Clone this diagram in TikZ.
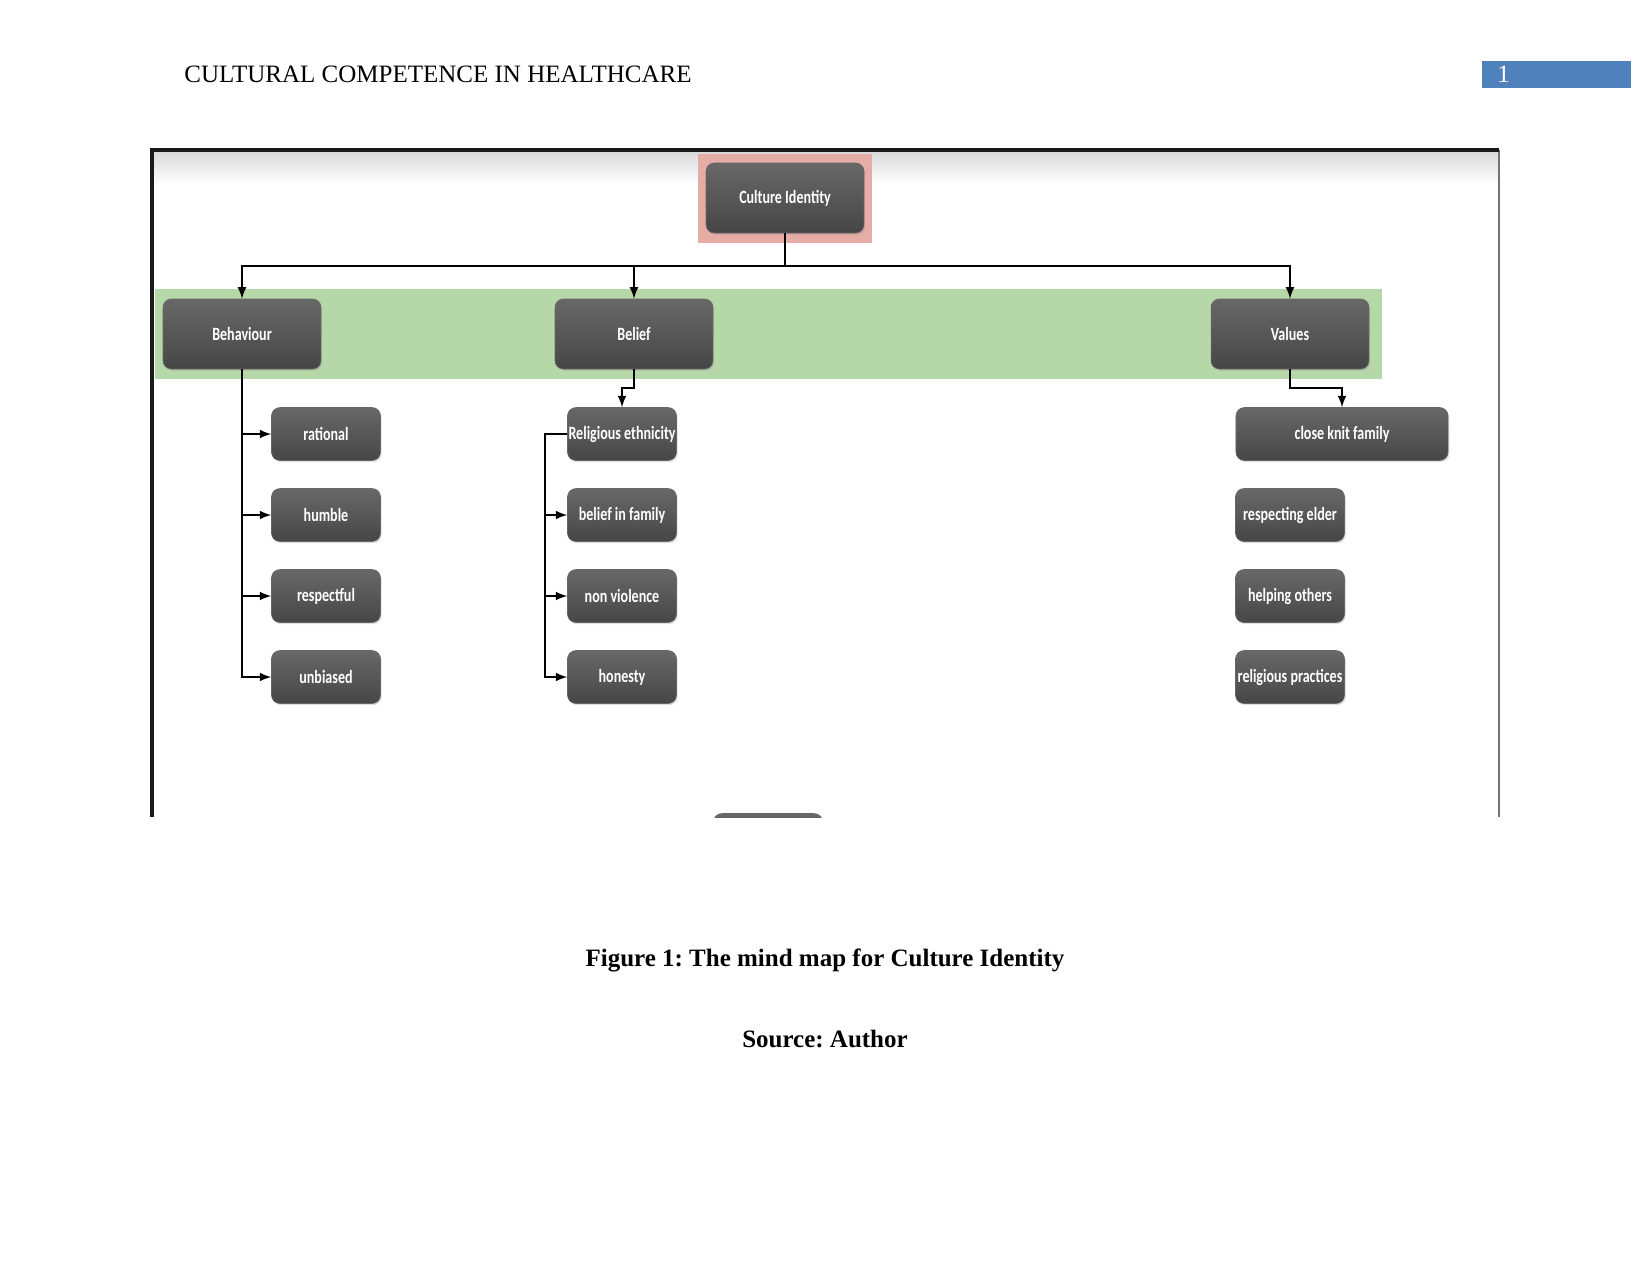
\documentclass[tikz,border=0pt]{standalone}
\usepackage{fontspec}
\setmainfont{Liberation Serif}
\newfontfamily\boxfont[FakeStretch=0.75]{Carlito}
\usetikzlibrary{shadows}
\frenchspacing

\definecolor{bandgreen}{RGB}{182,215,168}
\definecolor{rootpink}{RGB}{230,172,166}
\definecolor{headblue}{RGB}{79,129,189}
\definecolor{boxtop}{RGB}{104,104,104}
\definecolor{boxbottom}{RGB}{70,70,70}

\tikzset{
  mapbox/.style={rounded corners=4pt, top color=boxtop, bottom color=boxbottom,
    draw=black!60, line width=0.3pt, text=white, inner sep=0pt,
    font=\boxfont\bfseries\fontsize{9}{10}\selectfont,
    drop shadow={shadow xshift=0.6pt, shadow yshift=-0.8pt, opacity=0.25}},
  topic/.style={mapbox, minimum width=75.8pt, minimum height=33.6pt},
  leaf/.style={mapbox, minimum width=52.3pt, minimum height=25.4pt},
  link/.style={-{latex[scale=1.15]}, line width=0.9pt},
}

\begin{document}
\begin{tikzpicture}[x=0.48pt, y=-0.48pt]
\useasboundingbox (0,0) rectangle (1650,1275);

% running head
\node (head) at (184,82) [anchor=base west, inner sep=0pt, font=\fontsize{12}{14}\selectfont] {CULTURAL COMPETENCE IN HEALTHCARE};
\fill [headblue] (1482,61) rectangle (1631,88);
\node (page) at (1497,82) [anchor=base west, inner sep=0pt, text=white, font=\fontsize{12}{14}\selectfont] {1};

% frame of the pasted picture
\fill [top color=black!15, bottom color=white] (152,151) rectangle (1499,185);
\draw [black!55, line width=0.7pt] (1499,150) -- (1499,817);
\draw [black!90, line width=1.5pt] (152,817) -- (152,150) -- (1499,150);

% highlight bands
\fill [rootpink]  (698,154) rectangle (872,243);
\fill [bandgreen] (155,289) rectangle (1382,379);

% nodes
\node (root) at ( 785,198) [topic] {Culture Identity};
\node (beh)  at ( 242,334) [topic] {Behaviour};
\node (bel)  at ( 634,334) [topic] {Belief};
\node (val)  at (1290,334) [topic] {Values};

\node (rat)  at ( 326,434) [leaf] {rational};
\node (hum)  at ( 326,515) [leaf] {humble};
\node (res)  at ( 326,596) [leaf] {respectful};
\node (unb)  at ( 326,677) [leaf] {unbiased};

\node (rel)  at ( 622,434) [leaf] {Religious ethnicity};
\node (fam)  at ( 622,515) [leaf] {belief in family};
\node (non)  at ( 622,596) [leaf] {non violence};
\node (hon)  at ( 622,677) [leaf] {honesty};

\node (ckf)  at (1342,434) [leaf, minimum width=101.8pt] {close knit family};
\node (eld)  at (1290,515) [leaf] {respecting elder};
\node (hlp)  at (1290,596) [leaf] {helping others};
\node (prc)  at (1290,677) [leaf] {religious practices};

\begin{scope}
\clip (152,150) rectangle (1499,817);
\node (next) at (768,840) [leaf] {};
\end{scope}

% connectors
\coordinate (bus) at (785,266);
\draw [link] (root.south) -- (bus) -| (beh.north);
\draw [link] (root.south) -- (bus) -| (bel.north);
\draw [link] (root.south) -- (bus) -| (val.north);
\draw [link] (bel.south) -- ++(0,19) -| (rel.north);
\draw [link] (val.south) -- ++(0,19) -| (ckf.north);
\foreach \n in {rat,hum,res,unb}
  \draw [link] (beh.south) |- (\n.west);
\foreach \n in {fam,non,hon}
  \draw [link] (rel.west) -- ++(-22,0) |- (\n.west);

% caption
\node (cap) at (825,960)  [font=\bfseries\fontsize{12}{14}\selectfont] {Figure 1: The mind map for Culture Identity};
\node (src) at (825,1039) [font=\bfseries\fontsize{12}{14}\selectfont] {Source: Author};
\end{tikzpicture}
\end{document}
